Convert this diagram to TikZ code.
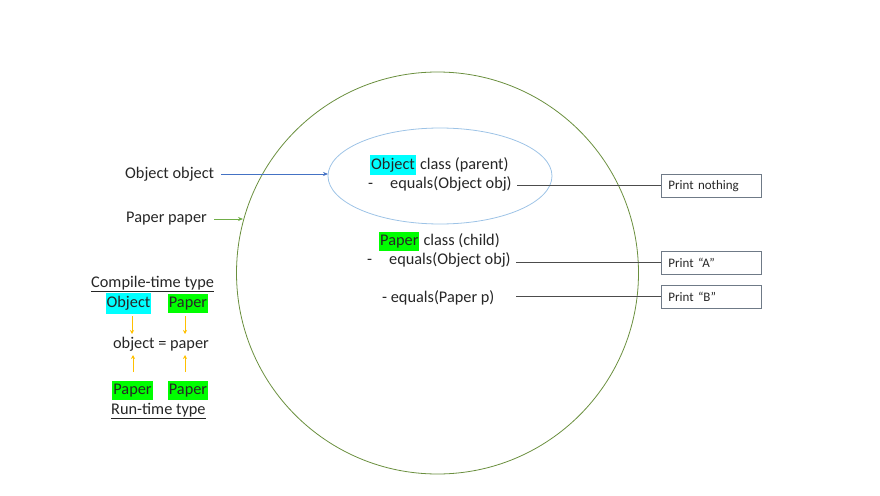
\documentclass[tikz,border=0pt]{standalone}
\usepackage{fontspec}
\setmainfont{Carlito}
\usetikzlibrary{arrows.meta}
\definecolor{arrblue}{HTML}{4472C4}
\definecolor{ellblue}{HTML}{9DC3E6}
\definecolor{circgreen}{HTML}{70AD47}
\definecolor{circline}{HTML}{6A8F3E}
\definecolor{orangeA}{HTML}{FFC000}
\definecolor{boxgray}{HTML}{6F7A87}
\definecolor{hlcyan}{HTML}{00FFFF}
\definecolor{hlgreen}{HTML}{00FF00}
\begin{document}
\begin{tikzpicture}[x=1pt,y=-1pt,
  txt/.style={inner sep=0pt,font=\fontsize{16.3}{18}\selectfont,text=black!85},
  hl/.style={txt,inner xsep=1pt,inner ysep=3pt},
  printbox/.style={draw=boxgray,line width=0.8pt,minimum width=100pt,minimum height=23pt,anchor=west,inner sep=0pt,text width=86pt,align=left,font=\fontsize{13}{15}\selectfont,text=black!85},
  conn/.style={draw=black!70,line width=0.7pt},
  oarrow/.style={draw=orangeA,line width=0.7pt,-{Stealth[length=4pt,width=4pt]}}
]
\useasboundingbox (0,0) rectangle (880,495);
% big circle
\draw[circline,line width=0.8pt] (437.5,273) circle [radius=201];
% ellipse
\draw[ellblue,line width=0.8pt] (440,176) ellipse [x radius=112, y radius=48];
\coordinate (ellL) at (328,174);
\coordinate (circL) at (243,219);
% left labels
\node[txt,anchor=west] (objobj) at (125,174) {Object object};
\node[txt,anchor=west] (papp) at (126,219) {Paper paper};
\draw[arrblue,line width=0.7pt,-{Stealth[length=5pt,width=4pt]}] ([xshift=7pt]objobj.east) -- (ellL);
\draw[circgreen,line width=0.7pt,-{Stealth[length=5pt,width=4pt]}] ([xshift=7pt]papp.east) -- (circL);
% class texts
\node[hl,fill=hlcyan,anchor=base west] (objhl) at (370,169) {Object};
\node[txt,anchor=base west] (objcls) at (objhl.base east) {\ class (parent)};
\node[txt,anchor=west] (eq1) at (368,184) {-\hspace{17pt}equals(Object obj)};
\node[hl,fill=hlgreen,anchor=base west] (paphl) at (379,245) {Paper};
\node[txt,anchor=base west] (papcls) at (paphl.base east) {\ class (child)};
\node[txt,anchor=west] (eq2) at (367,260) {-\hspace{17pt}equals(Object obj)};
\node[txt,anchor=west] (eq3) at (382,298) {- equals(Paper p)};
% print boxes
\node[printbox] (pn) at (661,186) {Print nothing};
\node[printbox] (pa) at (661,262.5) {Print “A”};
\node[printbox] (pb) at (661,296.5) {Print “B”};
\coordinate (c1) at (517,185);
\coordinate (c2) at (516,262);
\coordinate (c3) at (516,296.5);
\draw[conn] (c1) -- (c1 -| pn.west);
\draw[conn] (c2) -- (c2 -| pa.west);
\draw[conn] (c3) -- (c3 -| pb.west);
% compile-time / run-time
\node[txt,anchor=west] (ct) at (91,284) {\underline{Compile-time type}};
\node[hl,fill=hlcyan,minimum width=45pt,minimum height=19pt] (cto) at (128.5,303.5) {Object};
\node[hl,fill=hlgreen,minimum width=40pt,minimum height=19pt] (ctp) at (188,303.5) {Paper};
\node[txt] (eqn) at (161,344) {object = paper};
\node[hl,fill=hlgreen,minimum width=37pt,minimum height=19pt] (rto) at (132.5,390.5) {Paper};
\node[hl,fill=hlgreen,minimum width=40pt,minimum height=19pt] (rtp) at (188,390.5) {Paper};
\node[txt,anchor=west] (rt) at (111,411) {\underline{Run-time type}};
\coordinate (a1s) at (132,316); \coordinate (a1e) at (132,334);
\coordinate (a2s) at (185,316); \coordinate (a2e) at (185,334);
\coordinate (a3s) at (133,372); \coordinate (a3e) at (133,355);
\coordinate (a4s) at (185,372); \coordinate (a4e) at (185,355);
\draw[oarrow] (a1s) -- (a1e);
\draw[oarrow] (a2s) -- (a2e);
\draw[oarrow] (a3s) -- (a3e);
\draw[oarrow] (a4s) -- (a4e);
\end{tikzpicture}
\end{document}
